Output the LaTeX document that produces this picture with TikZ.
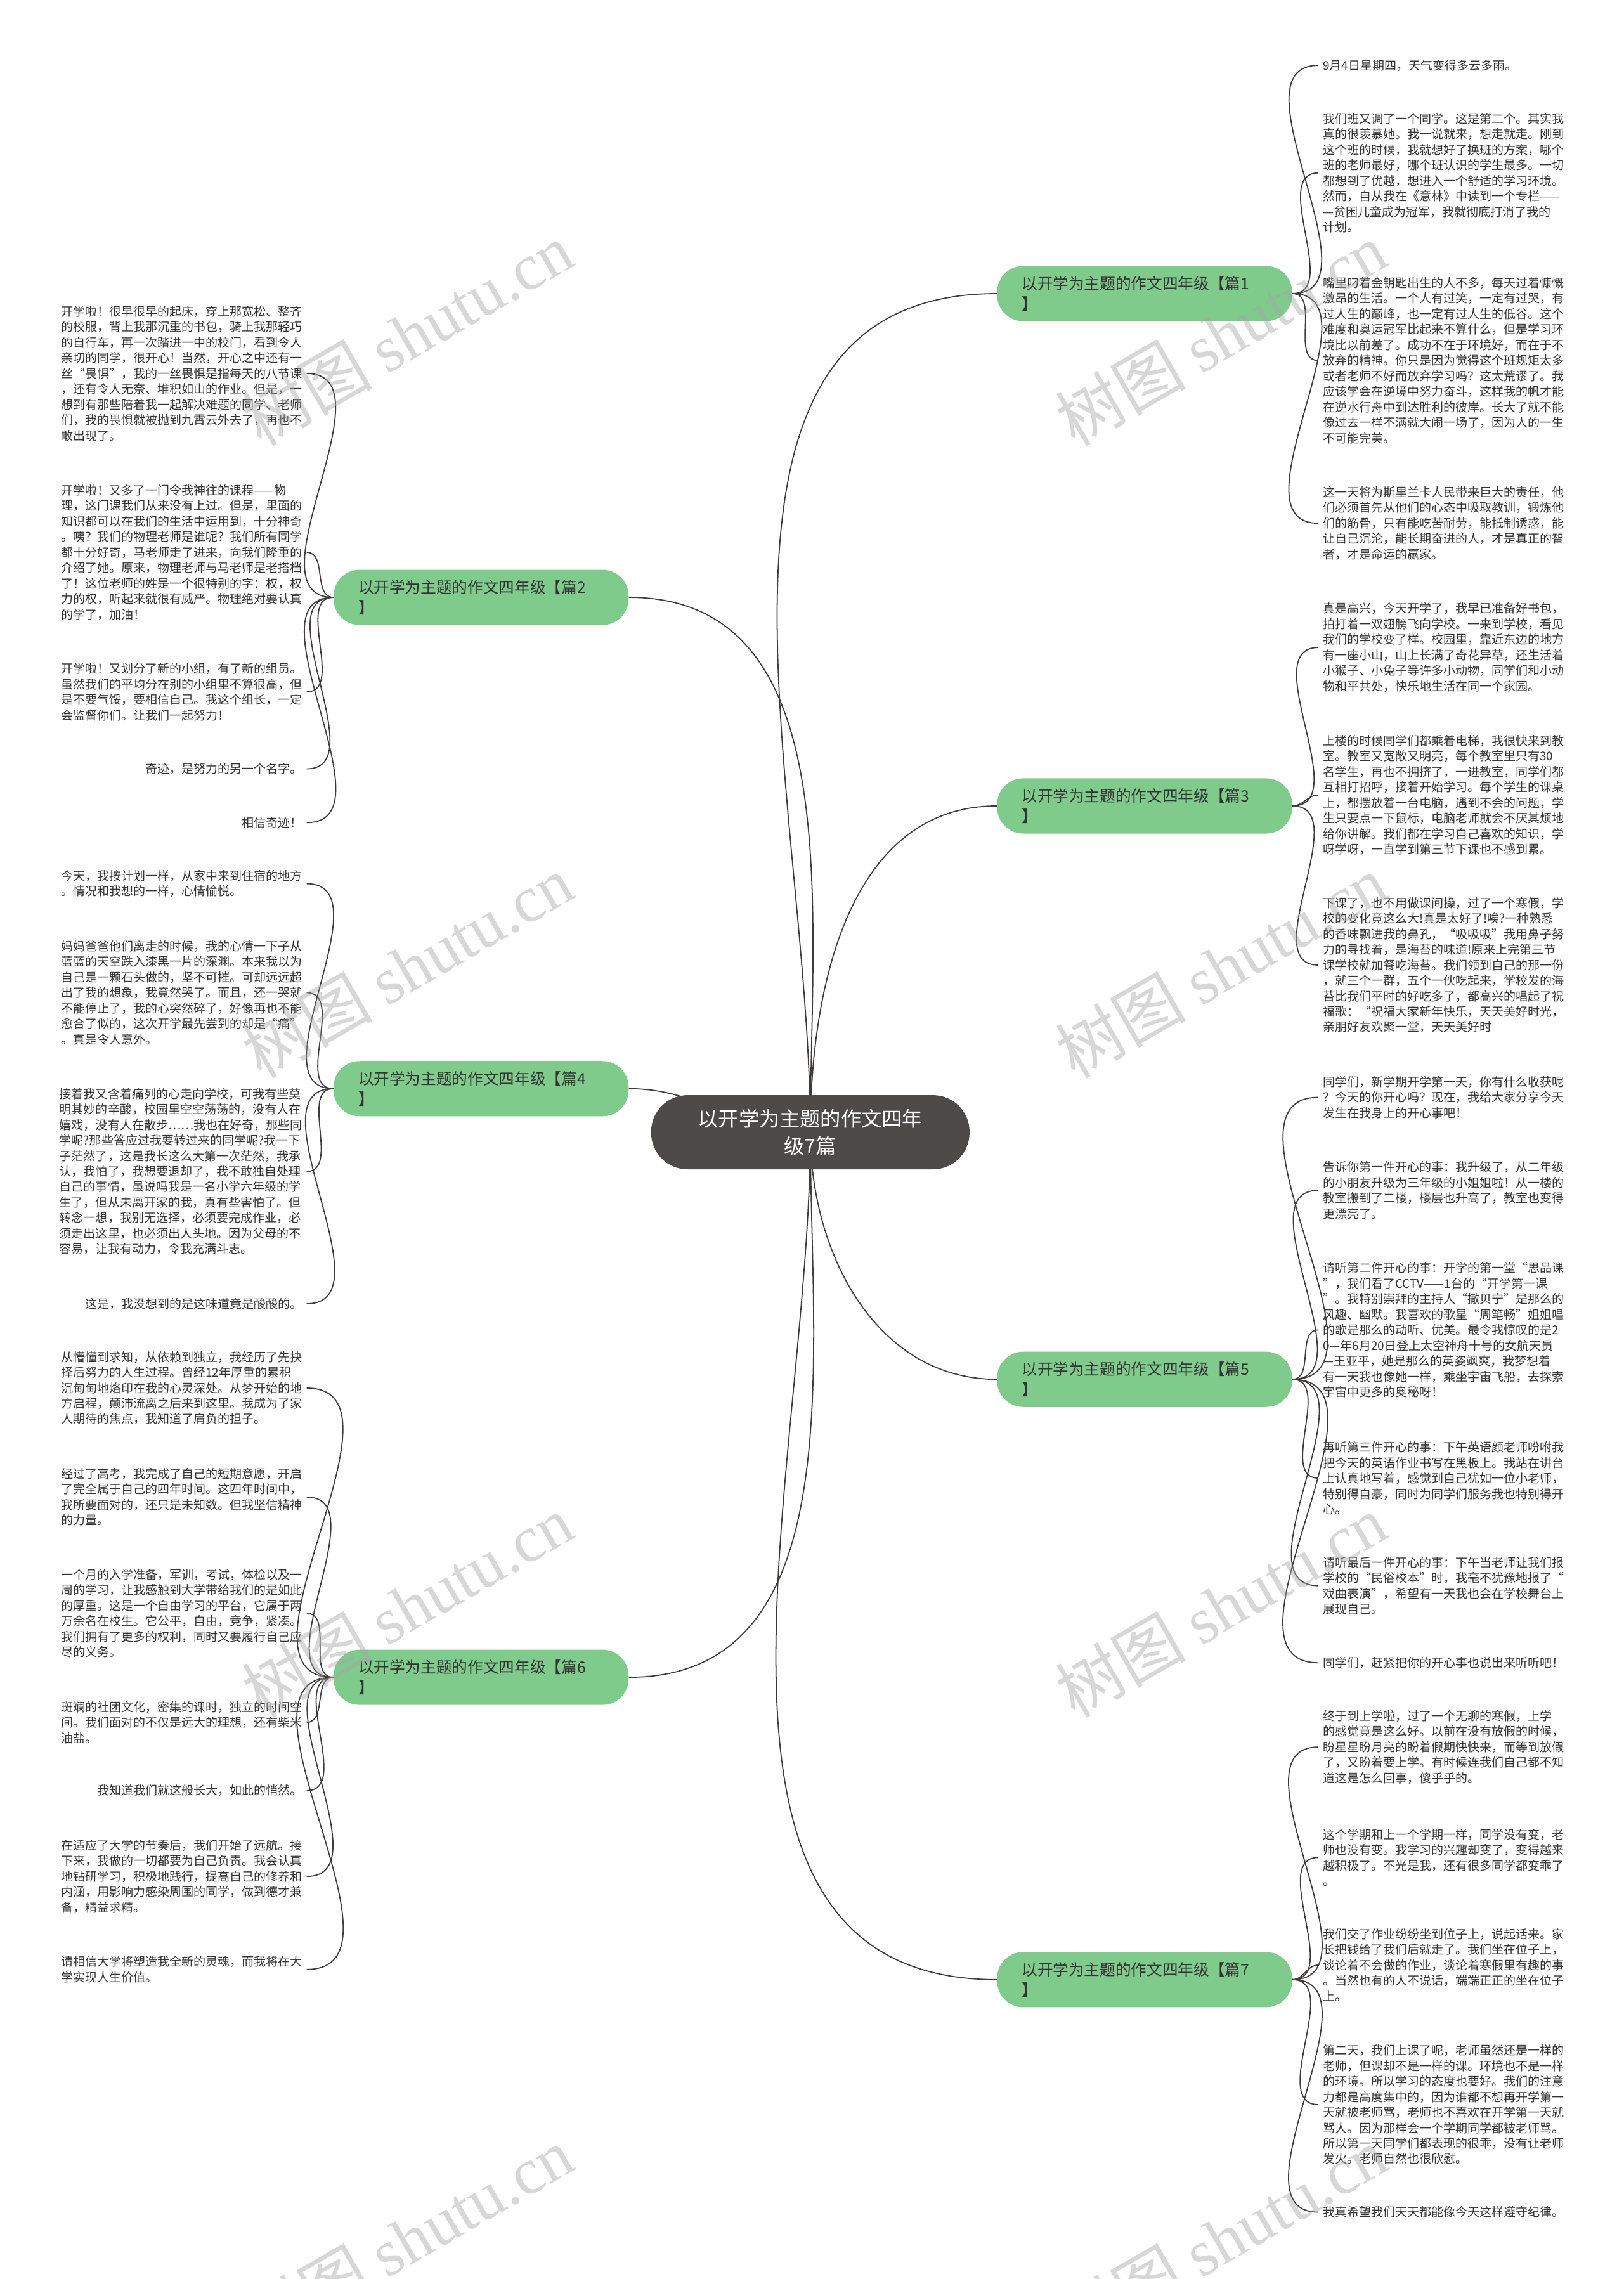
\documentclass[tikz,border=0pt]{standalone}
\usepackage{fontspec}
\setmainfont{Noto Sans CJK SC}
\newfontfamily\markfont{Liberation Serif}
\usetikzlibrary{positioning,calc}
\definecolor{rootgray}{HTML}{4D4A48}
\definecolor{branchgreen}{HTML}{7FCB8C}
\definecolor{linkgray}{HTML}{3E3B3A}
\definecolor{inkgray}{HTML}{333333}
\pgfdeclarelayer{bg}
\pgfsetlayers{bg,main}

\begin{document}
\begin{tikzpicture}[x=0.5mm,y=-0.5mm,
  root/.style={rectangle,rounded corners=12.5mm,fill=rootgray,text=white,
               minimum width=109.5mm,minimum height=25.5mm,align=center,
               font=\fontsize{20pt}{27pt}\selectfont},
  branch/.style={rectangle,rounded corners=9mm,fill=branchgreen,text=inkgray,
                 text width=84.5mm,inner xsep=8.5mm,minimum height=19mm,align=left,
                 font=\fontsize{15.3pt}{20pt}\selectfont},
  rleaf/.style={anchor=west,inner xsep=1.5mm,inner ysep=0pt,align=left,text=inkgray,
                font=\fontsize{11.8pt}{15.2pt}\selectfont},
  lleaf/.style={anchor=east,inner xsep=1.5mm,inner ysep=0pt,align=left,text=inkgray,
                font=\fontsize{11.8pt}{15.2pt}\selectfont},
  link/.style={linkgray,line width=1.1pt},
  watermark/.style={rotate=30,text=gray!70,opacity=0.45,font=\fontsize{64pt}{64pt}\selectfont}
]
  \useasboundingbox (0,0) rectangle (1117,1568);

  % centre and the seven branches
  \node[root] (root) at (557.5,779) {以开学为主题的作文四年\\级7篇};
  \node[branch] (p1) at (787.5,202)   {以开学为主题的作文四年级【篇1\\】};
  \node[branch] (p3) at (787.5,554.5) {以开学为主题的作文四年级【篇3\\】};
  \node[branch] (p5) at (787.5,949)   {以开学为主题的作文四年级【篇5\\】};
  \node[branch] (p7) at (787.5,1362)  {以开学为主题的作文四年级【篇7\\】};
  \node[branch] (p2) at (331,411)     {以开学为主题的作文四年级【篇2\\】};
  \node[branch] (p4) at (331,749)     {以开学为主题的作文四年级【篇4\\】};
  \node[branch] (p6) at (331,1154)    {以开学为主题的作文四年级【篇6\\】};

  % right side, 篇1
  \node[rleaf] (p1a) at (907,45) {9月4日星期四，天气变得多云多雨。};
  \node[rleaf] (p1b) at (907,119) {我们班又调了一个同学。这是第二个。其实我\\真的很羡慕她。我一说就来，想走就走。刚到\\这个班的时候，我就想好了换班的方案，哪个\\班的老师最好，哪个班认识的学生最多。一切\\都想到了优越，想进入一个舒适的学习环境。\\然而，自从我在《意林》中读到一个专栏——\\—贫困儿童成为冠军，我就彻底打消了我的\\计划。};
  \node[rleaf] (p1c) at (907,248) {嘴里叼着金钥匙出生的人不多，每天过着慷慨\\激昂的生活。一个人有过笑，一定有过哭，有\\过人生的巅峰，也一定有过人生的低谷。这个\\难度和奥运冠军比起来不算什么，但是学习环\\境比以前差了。成功不在于环境好，而在于不\\放弃的精神。你只是因为觉得这个班规矩太多\\或者老师不好而放弃学习吗？这太荒谬了。我\\应该学会在逆境中努力奋斗，这样我的帆才能\\在逆水行舟中到达胜利的彼岸。长大了就不能\\像过去一样不满就大闹一场了，因为人的一生\\不可能完美。};
  \node[rleaf] (p1d) at (907,360) {这一天将为斯里兰卡人民带来巨大的责任，他\\们必须首先从他们的心态中吸取教训，锻炼他\\们的筋骨，只有能吃苦耐劳，能抵制诱惑，能\\让自己沉沦，能长期奋进的人，才是真正的智\\者，才是命运的赢家。};

  % right side, 篇3
  \node[rleaf] (p3a) at (907,445.5) {真是高兴，今天开学了，我早已准备好书包，\\拍打着一双翅膀飞向学校。一来到学校，看见\\我们的学校变了样。校园里，靠近东边的地方\\有一座小山，山上长满了奇花异草，还生活着\\小猴子、小兔子等许多小动物，同学们和小动\\物和平共处，快乐地生活在同一个家园。};
  \node[rleaf] (p3b) at (907,547) {上楼的时候同学们都乘着电梯，我很快来到教\\室。教室又宽敞又明亮，每个教室里只有30\\名学生，再也不拥挤了，一进教室，同学们都\\互相打招呼，接着开始学习。每个学生的课桌\\上，都摆放着一台电脑，遇到不会的问题，学\\生只要点一下鼠标，电脑老师就会不厌其烦地\\给你讲解。我们都在学习自己喜欢的知识，学\\呀学呀，一直学到第三节下课也不感到累。};
  \node[rleaf] (p3c) at (907,664) {下课了，也不用做课间操，过了一个寒假，学\\校的变化竟这么大!真是太好了!唉?一种熟悉\\的香味飘进我的鼻孔，“吸吸吸”我用鼻子努\\力的寻找着，是海苔的味道!原来上完第三节\\课学校就加餐吃海苔。我们领到自己的那一份\\，就三个一群，五个一伙吃起来，学校发的海\\苔比我们平时的好吃多了，都高兴的唱起了祝\\福歌：“祝福大家新年快乐，天天美好时光，\\亲朋好友欢聚一堂，天天美好时};

  % right side, 篇5
  \node[rleaf] (p5a) at (907,755) {同学们，新学期开学第一天，你有什么收获呢\\？今天的你开心吗？现在，我给大家分享今天\\发生在我身上的开心事吧！};
  \node[rleaf] (p5b) at (907,819) {告诉你第一件开心的事：我升级了，从二年级\\的小朋友升级为三年级的小姐姐啦！从一楼的\\教室搬到了二楼，楼层也升高了，教室也变得\\更漂亮了。};
  \node[rleaf] (p5c) at (907,915) {请听第二件开心的事：开学的第一堂“思品课\\”，我们看了CCTV——1台的“开学第一课\\”。我特别崇拜的主持人“撒贝宁”是那么的\\风趣、幽默。我喜欢的歌星“周笔畅”姐姐唱\\的歌是那么的动听、优美。最令我惊叹的是2\\0---年6月20日登上太空神舟十号的女航天员\\—王亚平，她是那么的英姿飒爽，我梦想着\\有一天我也像她一样，乘坐宇宙飞船，去探索\\宇宙中更多的奥秘呀！};
  \node[rleaf] (p5d) at (907,1017) {再听第三件开心的事：下午英语颜老师吩咐我\\把今天的英语作业书写在黑板上。我站在讲台\\上认真地写着，感觉到自己犹如一位小老师，\\特别得自豪，同时为同学们服务我也特别得开\\心。};
  \node[rleaf] (p5e) at (907,1091) {请听最后一件开心的事：下午当老师让我们报\\学校的“民俗校本”时，我毫不犹豫地报了“\\戏曲表演”，希望有一天我也会在学校舞台上\\展现自己。};
  \node[rleaf] (p5f) at (907,1144) {同学们，赶紧把你的开心事也说出来听听吧！};

  % right side, 篇7
  \node[rleaf] (p7a) at (907,1202) {终于到上学啦，过了一个无聊的寒假，上学\\的感觉竟是这么好。以前在没有放假的时候，\\盼星星盼月亮的盼着假期快快来，而等到放假\\了，又盼着要上学。有时候连我们自己都不知\\道这是怎么回事，傻乎乎的。};
  \node[rleaf] (p7b) at (907,1278) {这个学期和上一个学期一样，同学没有变，老\\师也没有变。我学习的兴趣却变了，变得越来\\越积极了。不光是我，还有很多同学都变乖了\\。};
  \node[rleaf] (p7c) at (907,1352) {我们交了作业纷纷坐到位子上，说起话来。家\\长把钱给了我们后就走了。我们坐在位子上，\\谈论着不会做的作业，谈论着寒假里有趣的事\\。当然也有的人不说话，端端正正的坐在位子\\上。};
  \node[rleaf] (p7d) at (907,1448) {第二天，我们上课了呢，老师虽然还是一样的\\老师，但课却不是一样的课。环境也不是一样\\的环境。所以学习的态度也要好。我们的注意\\力都是高度集中的，因为谁都不想再开学第一\\天就被老师骂，老师也不喜欢在开学第一天就\\骂人。因为那样会一个学期同学都被老师骂。\\所以第一天同学们都表现的很乖，没有让老师\\发火。老师自然也很欣慰。};
  \node[rleaf] (p7e) at (907,1522) {我真希望我们天天都能像今天这样遵守纪律。};

  % left side, 篇2
  \node[lleaf] (p2a) at (211,257) {开学啦！很早很早的起床，穿上那宽松、整齐\\的校服，背上我那沉重的书包，骑上我那轻巧\\的自行车，再一次踏进一中的校门，看到令人\\亲切的同学，很开心！当然，开心之中还有一\\丝“畏惧”，我的一丝畏惧是指每天的八节课\\，还有令人无奈、堆积如山的作业。但是，一\\想到有那些陪着我一起解决难题的同学、老师\\们，我的畏惧就被抛到九霄云外去了，再也不\\敢出现了。};
  \node[lleaf] (p2b) at (211,380) {开学啦！又多了一门令我神往的课程——物\\理，这门课我们从来没有上过。但是，里面的\\知识都可以在我们的生活中运用到，十分神奇\\。咦？我们的物理老师是谁呢？我们所有同学\\都十分好奇，马老师走了进来，向我们隆重的\\介绍了她。原来，物理老师与马老师是老搭档\\了！这位老师的姓是一个很特别的字：权，权\\力的权，听起来就很有威严。物理绝对要认真\\的学了，加油！};
  \node[lleaf] (p2c) at (211,476) {开学啦！又划分了新的小组，有了新的组员。\\虽然我们的平均分在别的小组里不算很高，但\\是不要气馁，要相信自己。我这个组长，一定\\会监督你们。让我们一起努力！};
  \node[lleaf] (p2d) at (211,529) {奇迹，是努力的另一个名字。};
  \node[lleaf] (p2e) at (211,566) {相信奇迹！};

  % left side, 篇4
  \node[lleaf] (p4a) at (211,608) {今天，我按计划一样，从家中来到住宿的地方\\。情况和我想的一样，心情愉悦。};
  \node[lleaf] (p4b) at (211,683) {妈妈爸爸他们离走的时候，我的心情一下子从\\蓝蓝的天空跌入漆黑一片的深渊。本来我以为\\自己是一颗石头做的，坚不可摧。可却远远超\\出了我的想象，我竟然哭了。而且，还一哭就\\不能停止了，我的心突然碎了，好像再也不能\\愈合了似的，这次开学最先尝到的却是“痛”\\。真是令人意外。};
  \node[lleaf] (p4c) at (211,806) {接着我又含着痛列的心走向学校，可我有些莫\\明其妙的辛酸，校园里空空荡荡的，没有人在\\嬉戏，没有人在散步……我也在好奇，那些同\\学呢?那些答应过我要转过来的同学呢?我一下\\子茫然了，这是我长这么大第一次茫然，我承\\认，我怕了，我想要退却了，我不敢独自处理\\自己的事情，虽说吗我是一名小学六年级的学\\生了，但从未离开家的我，真有些害怕了。但\\转念一想，我别无选择，必须要完成作业，必\\须走出这里，也必须出人头地。因为父母的不\\容易，让我有动力，令我充满斗志。};
  \node[lleaf] (p4d) at (211,897) {这是，我没想到的是这味道竟是酸酸的。};

  % left side, 篇6
  \node[lleaf] (p6a) at (211,955) {从懵懂到求知，从依赖到独立，我经历了先抉\\择后努力的人生过程。曾经12年厚重的累积\\沉甸甸地烙印在我的心灵深处。从梦开始的地\\方启程，颠沛流离之后来到这里。我成为了家\\人期待的焦点，我知道了肩负的担子。};
  \node[lleaf] (p6b) at (211,1030) {经过了高考，我完成了自己的短期意愿，开启\\了完全属于自己的四年时间。这四年时间中，\\我所要面对的，还只是未知数。但我坚信精神\\的力量。};
  \node[lleaf] (p6c) at (211,1110) {一个月的入学准备，军训，考试，体检以及一\\周的学习，让我感触到大学带给我们的是如此\\的厚重。这是一个自由学习的平台，它属于两\\万余名在校生。它公平，自由，竞争，紧凑。\\我们拥有了更多的权利，同时又要履行自己应\\尽的义务。};
  \node[lleaf] (p6d) at (211,1185) {斑斓的社团文化，密集的课时，独立的时间空\\间。我们面对的不仅是远大的理想，还有柴米\\油盐。};
  \node[lleaf] (p6e) at (211,1232) {我知道我们就这般长大，如此的悄然。};
  \node[lleaf] (p6f) at (211,1291) {在适应了大学的节奏后，我们开始了远航。接\\下来，我做的一切都要为自己负责。我会认真\\地钻研学习，积极地践行，提高自己的修养和\\内涵，用影响力感染周围的同学，做到德才兼\\备，精益求精。};
  \node[lleaf] (p6g) at (211,1355) {请相信大学将塑造我全新的灵魂，而我将在大\\学实现人生价值。};

  \begin{pgfonlayer}{bg}
    % centre to branches, starting behind the centre node
    \foreach \b in {p1,p3}{
      \draw[link] (root.center) to[out=90,in=180] (\b.west);
    }
    \foreach \b in {p5,p7}{
      \draw[link] (root.center) to[out=-90,in=180] (\b.west);
    }
    \draw[link] (root.center) to[out=90,in=0]  (p2.east);
    \draw[link] (root.center) to[out=180,in=0] (p4.east);
    \draw[link] (root.center) to[out=-90,in=0] (p6.east);
  \end{pgfonlayer}

  % branches to their texts
  \foreach \b/\l in {p1/p1a,p1/p1b,p1/p1c,p1/p1d,p3/p3a,p3/p3b,p3/p3c,
                     p5/p5a,p5/p5b,p5/p5c,p5/p5d,p5/p5e,p5/p5f,
                     p7/p7a,p7/p7b,p7/p7c,p7/p7d,p7/p7e}{
    \draw[link] (\b.east) to[out=0,in=180] (\l.west);
  }
  \foreach \b/\l in {p2/p2a,p2/p2b,p2/p2c,p2/p2d,p2/p2e,p4/p4a,p4/p4b,p4/p4c,p4/p4d,
                     p6/p6a,p6/p6b,p6/p6c,p6/p6d,p6/p6e,p6/p6f,p6/p6g}{
    \draw[link] (\b.west) to[out=180,in=0] (\l.east);
  }

  % watermarks
  \foreach \wx/\wy [count=\k] in {280/230,840/230,280/665,840/665,280/1105,840/1105,280/1540,840/1540}{
    \node[watermark] (wm\k) at (\wx,\wy) {树图 {\markfont shutu.cn}};
  }
\end{tikzpicture}
\end{document}
